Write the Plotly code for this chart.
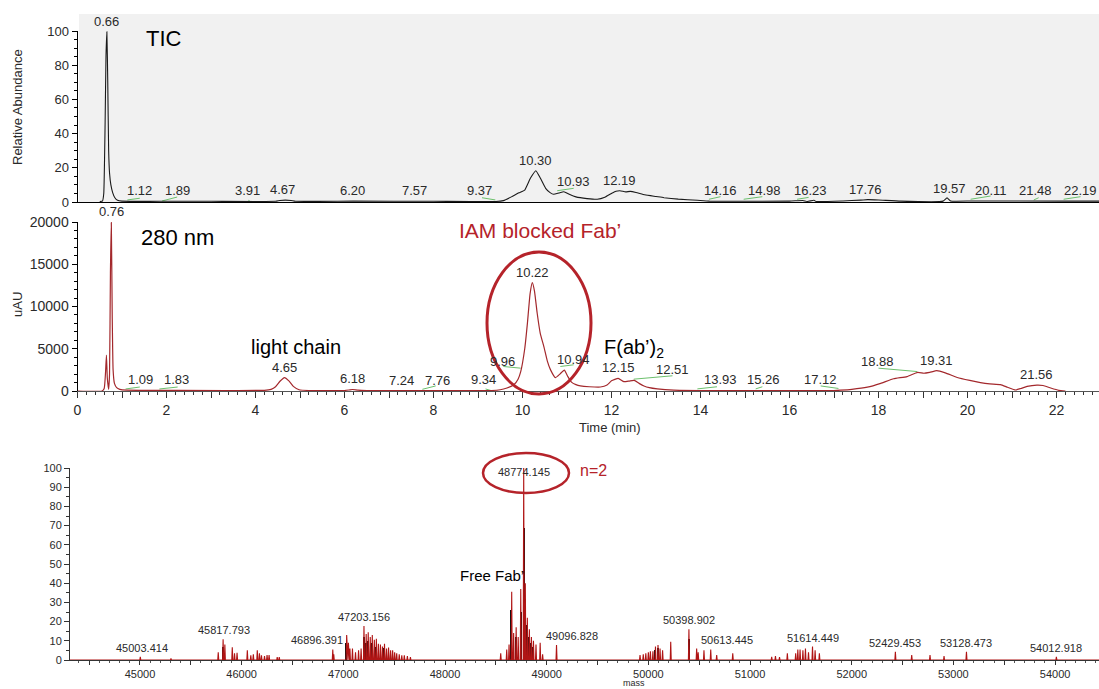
import numpy as np
import plotly.graph_objects as go

W, H = 1099, 689

# ---------------- TIC chromatogram (relative abundance vs time, min) ----------------
tic_time = [0.50, 0.56, 0.59, 0.62, 0.64, 0.66, 0.68, 0.70, 0.72, 0.75, 0.79, 0.84, 0.90, 1.00,
            2.00, 3.00, 4.45, 4.55, 4.67, 4.80, 4.90, 6.20, 8.00, 9.40, 9.57, 9.75, 9.92, 10.05,
            10.18, 10.30, 10.40, 10.52, 10.62, 10.70, 10.82, 10.93, 11.05, 11.20, 11.45, 11.68,
            11.85, 12.00, 12.10, 12.19, 12.32, 12.42, 12.55, 12.75, 13.00, 13.18, 13.50, 13.93,
            14.20, 16.00, 16.30, 16.40, 16.55, 16.60, 17.20, 17.60, 17.76, 18.00, 18.50, 19.45,
            19.54, 19.62, 20.11, 22.20, 22.96]
tic_abund = [0.3, 0.5, 5, 45, 85, 99.6, 70, 30, 17, 10, 5.5, 2.5, 1.0, 0.5,
             0.4, 0.4, 0.4, 0.9, 1.1, 0.9, 0.4, 0.5, 0.4, 0.3, 0.8, 3.0, 5.4, 7.0,
             14, 18.3, 14, 8, 5.5, 4.5, 5.3, 6.0, 4.5, 3.0, 2.0, 1.6,
             2.8, 5.0, 6.3, 6.6, 5.9, 6.2, 5.6, 4.2, 3.2, 2.5, 1.7, 1.0,
             0.5, 0.5, 0.9, 0.3, 1.0, 0.3, 0.6, 1.1, 1.4, 1.2, 0.5, 0.5,
             2.4, 0.6, 0.6, 0.5, 0.5]
tic_peak_rt = [0.66, 1.12, 1.89, 3.91, 4.67, 6.20, 7.57, 9.37, 10.30, 10.93, 12.19,
               14.16, 14.98, 16.23, 17.76, 19.57, 20.11, 21.48, 22.19]
tic_label_dx = [0, 12, 16, -4, -3, -1, 0, -15, 0, 10, 0, 13, 20, 11, -2, 1, 19, 2, 16]
# integration baselines: (t0, y0, t1, y1)
tic_baselines = [(1.12, 1.2, 1.40, 2.2), (1.90, 0.6, 2.24, 2.9), (3.84, 1.0, 3.90, 0.0),
                 (9.09, 2.5, 9.39, 1.2), (10.78, 6.6, 11.15, 8.0), (14.19, 1.6, 14.45, 3.1),
                 (14.97, 1.6, 15.39, 3.1), (16.17, 1.6, 16.43, 2.7), (20.07, 1.6, 20.52, 3.5),
                 (21.49, 1.2, 21.60, 2.5), (22.16, 1.6, 22.54, 3.1)]

# ---------------- UV 280 nm chromatogram (uAU vs time, min) ----------------
uv_time = [0.00, 0.55, 0.60, 0.63, 0.65, 0.67, 0.70, 0.72, 0.74, 0.76, 0.78, 0.80, 0.83, 0.88,
           0.95, 1.10, 2.00, 4.20, 4.35, 4.45, 4.55, 4.65, 4.75, 4.85, 4.98, 5.20, 6.00, 6.10,
           6.18, 6.30, 6.50, 7.00, 9.30, 9.50, 9.65, 9.80, 9.90, 9.96, 10.05, 10.11, 10.17,
           10.22, 10.27, 10.33, 10.40, 10.48, 10.56, 10.63, 10.74, 10.84, 10.94, 11.02, 11.10,
           11.20, 11.30, 11.50, 11.75, 11.90, 12.00, 12.15, 12.28, 12.40, 12.51, 12.62, 12.73,
           12.85, 13.03, 13.40, 14.00, 17.00, 17.15, 17.40, 17.75, 18.05, 18.34, 18.64, 18.88,
           19.02, 19.15, 19.31, 19.50, 19.77, 20.05, 20.29, 20.50, 20.74, 20.90, 21.08, 21.20,
           21.34, 21.56, 21.70, 21.87, 22.05, 22.20]
uv_signal = [0, 0, 300, 2200, 4260, 1500, 200, 2000, 14000, 19950, 9000, 2500, 900, 400,
             200, 100, 80, 80, 200, 500, 1150, 1580, 1200, 550, 150, 60, 60, 120,
             180, 100, 60, 50, 60, 150, 350, 700, 1400, 2290, 5000, 8000, 11500,
             12820, 11800, 9200, 6800, 5250, 3500, 2500, 1580, 2000, 2480, 1700, 1050,
             750, 600, 500, 470, 700, 1200, 1500, 1100, 1180, 1250, 900, 600,
             400, 250, 100, 60, 60, 100, 200, 450, 900, 1450, 1700, 2200,
             2100, 2200, 2400, 2150, 1600, 1250, 1000, 850, 750, 450, 120, 300,
             550, 700, 650, 350, 80, 0]
uv_peak_rt = [0.76, 1.09, 1.83, 4.65, 6.18, 7.24, 7.76, 9.34, 9.96, 10.22, 10.94, 12.15,
              12.51, 13.93, 15.26, 17.12, 18.88, 19.31, 21.56]
uv_label_dx = [0, 14, 18, 0, 0, 2, 15, -10, -18, 0, 9, 0, 38, 23, 7, -19, -40, 0, 0]
uv_baselines = [(1.08, 240, 1.40, 470), (1.84, 240, 2.25, 470), (7.75, 200, 8.05, 600),
                (9.17, 240, 9.33, 0), (9.57, 2900, 9.96, 2700), (10.85, 2900, 11.15, 3100),
                (12.50, 1400, 13.37, 1800), (13.93, 250, 14.37, 500), (15.24, 250, 15.39, 500),
                (16.70, 600, 17.10, 300), (18.00, 2700, 18.87, 2300)]

# ---------------- Deconvoluted mass spectrum ----------------
ms_scan_range = [44312, 54432]
ms_mass = [45003.414, 45305, 45770, 45817.793, 45835, 45908, 45930, 45955, 46056, 46090,
           46115, 46154, 46175, 46195, 46225, 46250, 46270, 46350, 46370, 46896.391, 46906,
           47033, 47050, 47065, 47090, 47120, 47150, 47175, 47203.156, 47225, 47245, 47265,
           47285, 47305, 47325, 47345, 47365, 47385, 47405, 47425, 47445, 47465, 47485, 47505,
           47525, 47550, 47575, 47600, 47630, 47660, 48548, 48607, 48630, 48656, 48675, 48700,
           48720, 48745, 48774.145, 48790, 48810, 48830, 48850, 48870, 48895, 48936, 48960,
           49096.828, 49918, 49950, 49975, 50000, 50020, 50045, 50070, 50095, 50115, 50140,
           50220, 50398.902, 50475, 50490, 50547, 50613.445, 50672, 50830, 51213, 51250, 51290,
           51367, 51449, 51470, 51492, 51520, 51545, 51575, 51614.449, 51640, 51682,
           52429.453, 52590, 52770, 52908, 53128.473, 54012.918]
ms_int = [1.7, 0.8, 4, 10.8, 8, 6.6, 3.5, 3.8, 5, 2.5,
          3, 5, 3.5, 2.5, 2, 2.6, 2.6, 1.5, 1.5, 5.5, 3,
          13, 9, 6, 6, 4, 5, 6, 17.7, 13.5, 14.5, 12,
          13, 10.5, 11, 8.5, 8, 7, 8.5, 6, 6.5, 5, 5, 4,
          3.5, 3, 2.5, 2.5, 2, 1.5, 3.5, 5.5, 8, 35.5, 14, 17,
          12, 37, 100, 40, 22, 16, 12, 10, 8, 9, 3,
          7.8, 2.6, 3, 3.5, 4, 4.5, 4.5, 7, 7.8, 6, 5,
          9.5, 16, 6, 4, 5, 5.5, 2.6, 3.5, 1.7, 2, 1.5,
          3.5, 3.5, 5.5, 5.5, 5, 6, 4, 7, 5, 3.5,
          4.3, 2.6, 2.6, 2, 4.3, 1.7]
ms_centroid_mass = [45817.793, 47033, 47203.156, 47225, 47245, 47285, 47325, 47405, 48656,
                    48700, 48745, 48774.145, 48790, 48810, 48830, 48850, 48870, 50070, 50095,
                    50398.902]
ms_centroid_int = [7, 9, 12, 9, 10, 9, 7, 6, 26, 12, 25, 69, 30, 18, 12, 9, 7, 5, 6, 11]
ms_label_mass = [45003.414, 45817.793, 46896.391, 47203.156, 48774.145, 49096.828,
                 50398.902, 50613.445, 51614.449, 52429.453, 53128.473, 54012.918]
ms_label_dx = [2, 1, -16, 0, 0, 15, 0, 16, 0, 0, 0, 0]
ms_label_dy = [0, 0, 0, 0, -13, 0, 0, 0, 0, 0, 0, 0]

# ---------------- styling ----------------
FONT = "Liberation Sans, Arial, sans-serif"
RED_TRACE = "#a3282c"
RED_NOTE = "#b5232a"
GREEN = "#6cc06c"
TEXT = "#2a2a2a"


def px_x(p):
    return p / W


def px_y(p):
    return 1 - p / H


def segments(rows):
    xs, ys = [], []
    for t0, y0, t1, y1 in rows:
        xs += [t0, t1, None]
        ys += [y0, y1, None]
    return xs, ys


fig = go.Figure()

# TIC
bx, by = segments(tic_baselines)
fig.add_trace(go.Scatter(x=bx, y=by, mode="lines", line=dict(color=GREEN, width=1),
                         xaxis="x", yaxis="y", hoverinfo="skip"))
fig.add_trace(go.Scatter(x=tic_time, y=tic_abund, mode="lines",
                         line=dict(color="#1a1a1a", width=1.1, shape="spline", smoothing=0.4),
                         xaxis="x", yaxis="y"))

# UV 280 nm
bx, by = segments(uv_baselines)
fig.add_trace(go.Scatter(x=bx, y=by, mode="lines", line=dict(color=GREEN, width=1),
                         xaxis="x2", yaxis="y2", hoverinfo="skip"))
fig.add_trace(go.Scatter(x=uv_time, y=uv_signal, mode="lines",
                         line=dict(color=RED_TRACE, width=1.2, shape="spline", smoothing=0.4),
                         xaxis="x2", yaxis="y2"))

# Mass spectrum: centroid sticks beneath the profile spikes
fig.add_trace(go.Bar(x=ms_centroid_mass, y=ms_centroid_int, width=14,
                     marker=dict(color="#111111", line=dict(width=0)),
                     xaxis="x3", yaxis="y3"))
order = np.argsort(ms_mass)
sx, sy = [ms_scan_range[0]], [0]
for i in order:
    m, h = ms_mass[i], ms_int[i]
    sx += [m - 5, m, m + 5]
    sy += [0, h, 0]
sx.append(ms_scan_range[1])
sy.append(0)
fig.add_trace(go.Scatter(x=sx, y=sy, mode="lines", line=dict(color="#b01515", width=1.1),
                         xaxis="x3", yaxis="y3"))

annotations = []

# peak labels
for rt, dx in zip(tic_peak_rt, tic_label_dx):
    annotations.append(dict(x=rt, y=float(np.interp(rt, tic_time, tic_abund)), xref="x", yref="y",
                            text=f"{rt:.2f}", showarrow=False, xanchor="center", yanchor="bottom",
                            xshift=dx, yshift=1, font=dict(size=13, color=TEXT, family=FONT)))
for rt, dx in zip(uv_peak_rt, uv_label_dx):
    annotations.append(dict(x=rt, y=float(np.interp(rt, uv_time, uv_signal)), xref="x2", yref="y2",
                            text=f"{rt:.2f}", showarrow=False, xanchor="center", yanchor="bottom",
                            xshift=dx, yshift=1, font=dict(size=13, color=TEXT, family=FONT)))
ms_lookup = dict(zip(ms_mass, ms_int))
for m, dx, dy in zip(ms_label_mass, ms_label_dx, ms_label_dy):
    annotations.append(dict(x=m, y=ms_lookup[m], xref="x3", yref="y3",
                            text=f"{m:.3f}", showarrow=False, xanchor="center", yanchor="bottom",
                            xshift=dx, yshift=1 + dy, font=dict(size=11, color=TEXT, family=FONT)))


def note(text, x, y, size, color="#000000", angle=0):
    annotations.append(dict(x=px_x(x), y=px_y(y), xref="paper", yref="paper", text=text,
                            showarrow=False, xanchor="center", yanchor="middle", textangle=angle,
                            font=dict(size=size, color=color, family=FONT)))


note("TIC", 164, 38, 22)
note("280 nm", 177, 237, 22)
note("light chain", 296, 347, 20)
note("IAM blocked Fab’", 540, 230, 21, RED_NOTE)
note("F(ab’)<sub>2</sub>", 634, 348, 20)
note("Time (min)", 610, 427, 13, TEXT)
note("Relative Abundance", 18, 107, 13, TEXT, -90)
note("uAU", 18, 305, 13, TEXT, -90)
note("Free Fab’", 492, 575, 15)
note("n=2", 593, 470, 16, RED_NOTE)
note("mass", 634, 683, 9, TEXT)

shapes = [
    # TIC panel background
    dict(type="rect", xref="paper", yref="paper", x0=px_x(79), x1=1, y0=px_y(202), y1=px_y(14),
         fillcolor="#f1f1f1", line=dict(width=0), layer="below"),
    # highlighted Fab' peak
    dict(type="circle", xref="paper", yref="paper", x0=px_x(487), x1=px_x(591),
         y0=px_y(394), y1=px_y(252), line=dict(color=RED_NOTE, width=3)),
    # highlighted main mass
    dict(type="circle", xref="paper", yref="paper", x0=px_x(483), x1=px_x(569),
         y0=px_y(493), y1=px_y(453), line=dict(color=RED_NOTE, width=2.5)),
]

tick_font = dict(family=FONT, size=13, color=TEXT)
ms_tick_font = dict(family=FONT, size=11, color=TEXT)
t_px = 44.5
x0_px = 77.5
t_max = (W - x0_px) / t_px

uv_ticks = list(range(0, 23))
uv_ticktext = [str(v) if v % 2 == 0 else "" for v in uv_ticks]
ms_ticks = list(range(44500, 54500, 500))
ms_ticktext = [str(v) if v % 1000 == 0 else "" for v in ms_ticks]

common = dict(showgrid=False, zeroline=False, automargin=False, showline=True, linewidth=1)

fig.update_layout(
    template="none",
    width=W, height=H,
    margin=dict(l=0, r=0, t=0, b=0, pad=0, autoexpand=False),
    paper_bgcolor="white",
    plot_bgcolor="rgba(0,0,0,0)",
    showlegend=False,
    bargap=0,
    annotations=annotations,
    shapes=shapes,
    font=dict(family=FONT, color=TEXT),
    xaxis=dict(domain=[px_x(x0_px), 1], range=[0, t_max], anchor="y",
               linecolor="#000", ticks="", showticklabels=False, **common),
    yaxis=dict(domain=[px_y(202), px_y(31)], range=[0, 100], anchor="x",
               linecolor="#000", ticks="outside", ticklen=5,
               tickcolor="#000", tickmode="linear", tick0=0, dtick=20, tickfont=tick_font,
               minor=dict(ticks="outside", ticklen=3, dtick=5, tickcolor="#000"), **common),
    xaxis2=dict(domain=[px_x(x0_px), 1], range=[0, t_max], anchor="y2",
                linecolor="#555", ticks="outside", ticklen=6,
                tickcolor="#333", tickmode="array", tickvals=uv_ticks, ticktext=uv_ticktext,
                tickfont=dict(family=FONT, size=14, color=TEXT),
                minor=dict(ticks="outside", ticklen=3, dtick=0.2, tick0=0, tickcolor="#333"),
                **common),
    yaxis2=dict(domain=[px_y(391), px_y(222)], range=[0, 20000], anchor="x2",
                linecolor="#000", ticks="outside", ticklen=5,
                tickcolor="#000", tickmode="linear", tick0=0, dtick=5000, tickformat="d",
                tickfont=dict(family=FONT, size=14, color=TEXT),
                minor=dict(ticks="outside", ticklen=3, dtick=1000, tickcolor="#000"), **common),
    xaxis3=dict(domain=[px_x(70), 1], range=ms_scan_range, anchor="y3",
                linecolor="#333", ticks="outside", ticklen=4,
                tickcolor="#333", tickmode="array", tickvals=ms_ticks, ticktext=ms_ticktext,
                tickfont=ms_tick_font,
                minor=dict(ticks="outside", ticklen=2, dtick=100, tick0=0, tickcolor="#555"),
                **common),
    yaxis3=dict(domain=[px_y(660), px_y(468)], range=[0, 100], anchor="x3",
                linecolor="#333", ticks="outside", ticklen=5,
                tickcolor="#333", tickmode="linear", tick0=0, dtick=10, tickfont=ms_tick_font,
                minor=dict(ticks="outside", ticklen=3, dtick=5, tickcolor="#333"), **common),
)

fig.write_html("out.html")
